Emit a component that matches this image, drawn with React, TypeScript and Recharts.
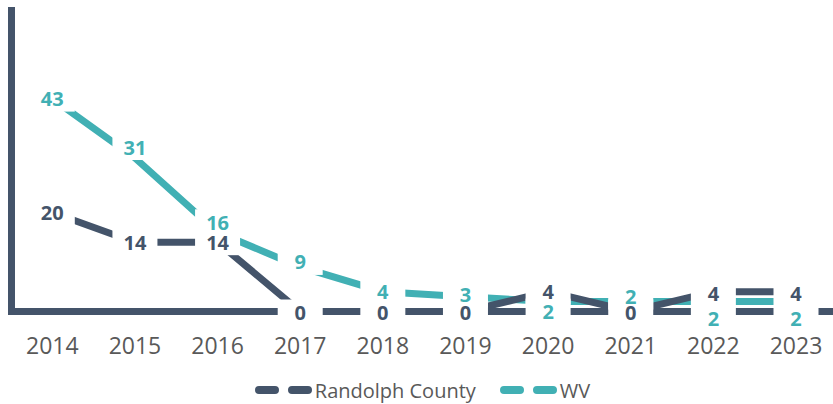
import { LineChart, Line, XAxis, YAxis, Legend, LabelList } from "recharts";

const years = ["2014", "2015", "2016", "2017", "2018", "2019", "2020", "2021", "2022", "2023"];
const randolph = [20, 14, 14, 0, 0, 0, 4, 0, 4, 4];
const wv = [43, 31, 16, 9, 4, 3, 2, 2, 2, 2];

// label nudges (px) so the two series' labels don't sit on each other
const randolphLabelShift = [0, 0, 0, 1, 1, 1, 0, 1, 2, 2];
const wvLabelShift = [0, -11, -10, -5, 0, -2, 10, -5, 17, 17];

const DARK = "#44546A";
const TEAL = "#41B0B4";
const GREY = "#595959";

const data = years.map((year, i) => ({ year, randolph: randolph[i], wv: wv[i] }));

const legendItems = [
  { name: "Randolph County", color: DARK },
  { name: "WV", color: TEAL },
];

// white box behind each data label (drawn in its own pass so it never hides other labels)
const makeBox = (shift: number[]) => (props: any) => {
  const { x, y, index } = props;
  const cy = y + (shift[index] || 0);
  return <rect x={x - 22.5} y={cy - 13} width={45} height={26} fill="#fff" />;
};

const makeText = (color: string, shift: number[]) => (props: any) => {
  const { x, y, value, index } = props;
  const cy = y + (shift[index] || 0);
  return (
    <text
      x={x}
      y={cy}
      textAnchor="middle"
      dominantBaseline="central"
      fill={color}
      fontSize={20}
      fontWeight={700}
    >
      {value}
    </text>
  );
};

const renderLegend = () => (
  <div
    style={{
      display: "flex",
      justifyContent: "center",
      alignItems: "center",
      gap: 24,
      height: 26,
      paddingLeft: 12,
      fontFamily: "Open Sans",
      fontSize: 20,
      color: GREY,
    }}
  >
    {legendItems.map((item) => (
      <div key={item.name} style={{ display: "flex", alignItems: "center" }}>
        <svg width={58} height={12} style={{ marginRight: 2 }}>
          <line
            x1={4}
            x2={54}
            y1={6}
            y2={6}
            stroke={item.color}
            strokeWidth={8}
            strokeDasharray="16 17"
            strokeLinecap="round"
          />
        </svg>
        <span>{item.name}</span>
      </div>
    ))}
  </div>
);

const labelLine = (id: string, key: string, content: any) => (
  <Line
    key={id}
    dataKey={key}
    stroke="none"
    legendType="none"
    dot={false}
    activeDot={false}
    isAnimationActive={false}
  >
    <LabelList dataKey={key} content={content} />
  </Line>
);

export default function App() {
  return (
    <div style={{ position: "absolute", left: 0, top: 0, background: "#fff" }}>
      <LineChart
        width={833}
        height={404}
        data={data}
        margin={{ top: 7, right: 0, left: 10.5, bottom: 1 }}
        style={{ fontFamily: "Open Sans" }}
      >
        <XAxis
          dataKey="year"
          axisLine={{ stroke: DARK, strokeWidth: 7, strokeLinecap: "square" }}
          tickLine={false}
          tickSize={0}
          tickMargin={26}
          height={65.5}
          padding={{ left: 40.8, right: 37 }}
          tick={{ fill: GREY, fontSize: 23 }}
          interval={0}
        />
        <YAxis
          width={1}
          domain={[0, 61.5]}
          tick={false}
          tickLine={false}
          axisLine={{ stroke: DARK, strokeWidth: 7 }}
        />
        <Legend verticalAlign="bottom" content={renderLegend} wrapperStyle={{ left: 0, width: 833 }} />
        <Line
          dataKey="wv"
          name="WV"
          stroke={TEAL}
          strokeWidth={7}
          dot={false}
          activeDot={false}
          isAnimationActive={false}
        />
        <Line
          dataKey="randolph"
          name="Randolph County"
          stroke={DARK}
          strokeWidth={7}
          dot={false}
          activeDot={false}
          isAnimationActive={false}
        />
        {labelLine("box-r", "randolph", makeBox(randolphLabelShift))}
        {labelLine("box-w", "wv", makeBox(wvLabelShift))}
        {labelLine("txt-r", "randolph", makeText(DARK, randolphLabelShift))}
        {labelLine("txt-w", "wv", makeText(TEAL, wvLabelShift))}
      </LineChart>
    </div>
  );
}
